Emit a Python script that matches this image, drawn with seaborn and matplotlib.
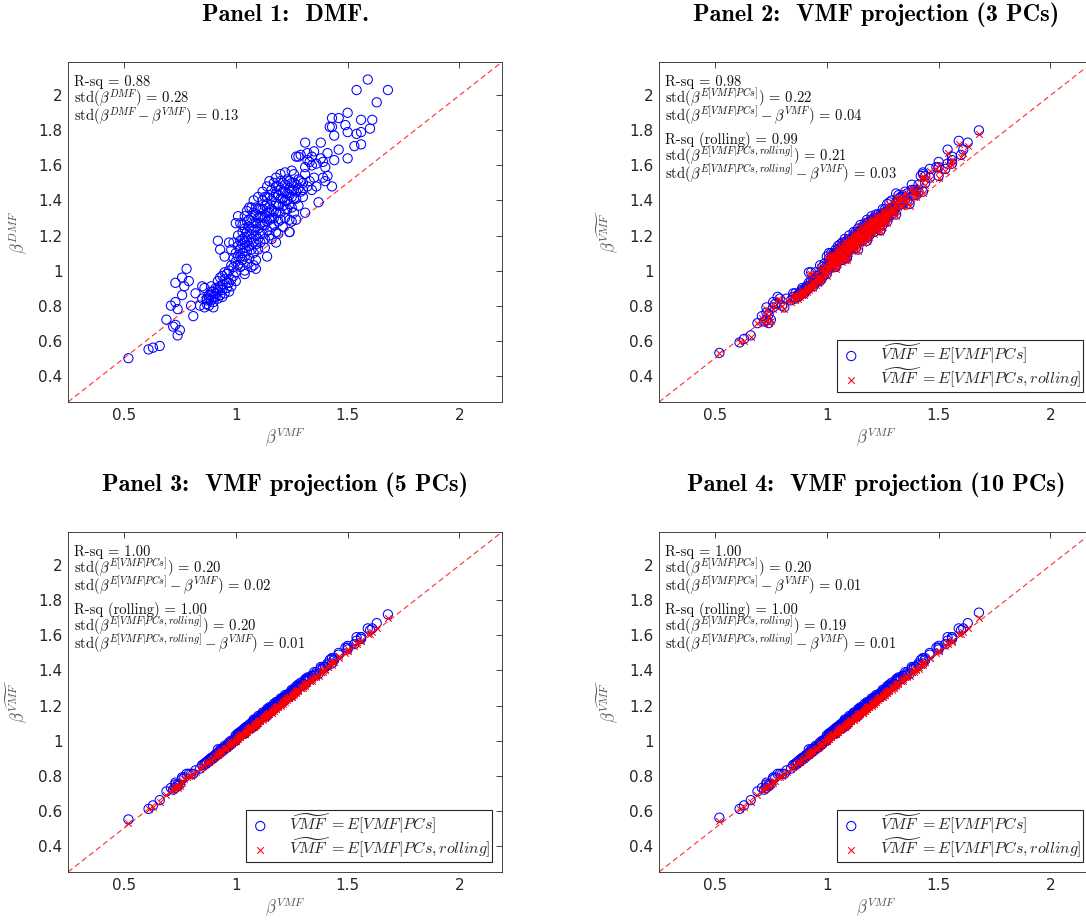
import matplotlib
matplotlib.use("Agg")
import matplotlib.pyplot as plt
import seaborn as sns

sns.set_style("white")
plt.rcParams["mathtext.fontset"] = "cm"
plt.rcParams["font.family"] = ["DejaVu Sans"]
plt.rcParams["axes.unicode_minus"] = False

# ---------------- data ----------------
beta_vmf = [
    0.52, 0.61, 0.63, 0.66, 0.69, 0.71, 0.73, 0.74, 0.72, 0.73, 0.74, 0.75, 0.73, 0.76, 0.78, 0.79, 0.77, 0.76, 0.82, 0.80,
    0.81, 0.85, 0.84, 0.92, 0.93, 0.95, 1.14, 1.04, 1.08, 1.09, 1.18, 1.24, 1.25, 1.31, 1.37, 1.43, 1.41, 1.40, 1.44, 1.31,
    1.38, 1.27, 1.29, 1.32, 1.35, 1.34, 1.32, 1.34, 1.36, 1.38, 1.39, 1.41, 1.46, 1.50, 1.43, 1.42, 1.43, 1.44, 1.46, 1.50,
    1.49, 1.50, 1.56, 1.61, 1.60, 1.54, 1.56, 1.56, 1.53, 1.63, 1.54, 1.59, 1.68,
    0.86, 0.87, 0.87, 0.88, 0.88, 0.89, 0.89, 0.90, 0.90, 0.91, 0.91, 0.92, 0.92, 0.93, 0.93, 0.94, 0.94, 0.95, 0.95, 0.96,
    0.96, 0.97, 0.97, 0.98, 0.98, 0.99, 0.99, 0.85, 0.86, 0.89, 0.92, 0.95, 1.00, 1.00, 0.90, 0.94,
    1.00, 1.00, 1.01, 1.01, 1.01, 1.02, 1.02, 1.02, 1.02, 1.03, 1.03, 1.03, 1.03, 1.03, 1.04, 1.04, 1.04, 1.04, 1.04, 1.04,
    1.05, 1.05, 1.05, 1.05, 1.05, 1.06, 1.06, 1.06, 1.06, 1.06, 1.07, 1.07, 1.07, 1.07, 1.08, 1.08, 1.08, 1.08, 1.08, 1.09,
    1.09, 1.09, 1.09, 1.10, 1.10, 1.10, 1.10, 1.10, 0.99, 0.98, 0.97, 1.00, 0.99, 1.01,
    1.11, 1.11, 1.11, 1.12, 1.12, 1.12, 1.12, 1.13, 1.13, 1.13, 1.14, 1.14, 1.14, 1.14, 1.15, 1.15, 1.15, 1.16, 1.16, 1.16,
    1.17, 1.17, 1.17, 1.18, 1.18, 1.18, 1.19, 1.19, 1.20, 1.20, 1.20, 1.21, 1.21, 1.21, 1.22, 1.22, 1.22, 1.23, 1.23, 1.23,
    1.24, 1.24, 1.24, 1.25, 1.25, 1.25, 1.26, 1.26, 1.26, 1.27, 1.27, 1.28, 1.28, 1.29, 1.30, 1.30, 1.31, 1.32, 1.33, 1.34,
    1.35, 1.36, 1.19, 1.24, 1.13, 1.16, 1.27, 1.33, 1.31, 1.28, 1.20, 1.18, 1.15, 1.22, 1.39, 1.40,
    0.87, 0.88, 0.89, 0.90, 0.91, 0.92, 0.93, 0.94, 0.96, 0.97, 0.98, 1.01, 1.02, 1.03, 1.04, 1.05, 1.06, 1.07, 1.07, 1.08,
    1.09, 1.09, 1.10, 1.11, 1.11, 1.12, 1.12, 1.13, 1.13, 1.14, 1.14, 1.15, 1.15, 1.16, 1.16, 1.17, 1.17, 1.18, 1.18, 1.19,
    1.19, 1.20, 1.20, 1.21, 1.21, 1.22, 1.22, 1.23, 1.24, 1.24, 1.25, 1.25, 1.26, 1.26, 1.27, 1.28, 1.29, 1.30,
]

beta_dmf = [
    0.50, 0.55, 0.56, 0.57, 0.72, 0.80, 0.82, 0.78, 0.68, 0.69, 0.63, 0.66, 0.93, 0.96, 1.01, 0.94, 0.91, 0.86, 0.87, 0.80,
    0.74, 0.91, 0.80, 1.17, 1.12, 1.08, 1.08, 0.98, 1.03, 1.01, 1.16, 1.22, 1.28, 1.33, 1.39, 1.48, 1.54, 1.59, 1.63, 1.73,
    1.73, 1.65, 1.66, 1.67, 1.68, 1.65, 1.63, 1.60, 1.61, 1.64, 1.62, 1.67, 1.69, 1.64, 1.87, 1.82, 1.82, 1.77, 1.87, 1.90,
    1.83, 1.79, 1.86, 1.86, 1.81, 1.78, 1.79, 1.72, 1.71, 1.96, 2.03, 2.09, 2.03,
    0.79, 0.81, 0.84, 0.80, 0.86, 0.83, 0.88, 0.82, 0.85, 0.87, 0.90, 0.84, 0.88, 0.86, 0.96, 0.89, 0.92, 0.87, 0.95, 0.90,
    0.98, 0.93, 0.88, 0.95, 0.91, 0.97, 1.02, 0.84, 0.90, 0.91, 0.94, 0.99, 0.94, 0.99, 0.79, 0.85,
    1.05, 1.10, 1.08, 1.14, 1.20, 1.02, 1.12, 1.17, 1.27, 1.06, 1.10, 1.15, 1.22, 1.26, 1.00, 1.08, 1.13, 1.19, 1.24, 1.31,
    1.04, 1.11, 1.17, 1.28, 1.34, 1.07, 1.14, 1.21, 1.25, 1.36, 1.02, 1.12, 1.18, 1.30, 1.10, 1.16, 1.23, 1.33, 1.40, 1.06,
    1.20, 1.27, 1.36, 1.12, 1.18, 1.24, 1.30, 1.42, 1.07, 1.12, 1.16, 1.27, 1.16, 1.31,
    1.16, 1.27, 1.35, 1.21, 1.31, 1.40, 1.45, 1.18, 1.26, 1.37, 1.23, 1.33, 1.42, 1.48, 1.20, 1.29, 1.36, 1.25, 1.40, 1.46,
    1.30, 1.34, 1.50, 1.22, 1.38, 1.44, 1.28, 1.48, 1.33, 1.41, 1.51, 1.25, 1.37, 1.45, 1.30, 1.49, 1.40, 1.35, 1.44, 1.52,
    1.29, 1.38, 1.47, 1.42, 1.50, 1.57, 1.33, 1.46, 1.55, 1.41, 1.49, 1.37, 1.52, 1.45, 1.50, 1.42, 1.55, 1.48, 1.51, 1.46,
    1.53, 1.48, 1.21, 1.22, 1.13, 1.18, 1.29, 1.62, 1.59, 1.65, 1.55, 1.53, 1.51, 1.56, 1.53, 1.51,
    0.83, 0.84, 0.86, 0.88, 0.85, 0.90, 0.91, 0.97, 0.93, 1.00, 1.03, 1.03, 1.08, 1.18, 1.16, 1.22, 1.29, 1.24, 1.36, 1.27,
    1.15, 1.32, 1.35, 1.21, 1.31, 1.26, 1.35, 1.30, 1.42, 1.28, 1.38, 1.33, 1.43, 1.30, 1.35, 1.26, 1.42, 1.33, 1.48, 1.37,
    1.43, 1.29, 1.46, 1.41, 1.50, 1.35, 1.45, 1.40, 1.43, 1.51, 1.36, 1.46, 1.41, 1.50, 1.45, 1.47, 1.51, 1.46,
]

# Panel 2 (3 PCs)
hat3 = [
    0.53, 0.59, 0.61, 0.63, 0.70, 0.74, 0.76, 0.75, 0.71, 0.72, 0.70, 0.72, 0.79, 0.82, 0.85, 0.84, 0.81, 0.79, 0.84, 0.80,
    0.79, 0.87, 0.83, 0.99, 0.99, 0.99, 1.12, 1.02, 1.07, 1.07, 1.17, 1.23, 1.26, 1.32, 1.38, 1.45, 1.45, 1.46, 1.50, 1.44,
    1.49, 1.38, 1.40, 1.43, 1.45, 1.43, 1.41, 1.42, 1.44, 1.46, 1.46, 1.49, 1.53, 1.54, 1.56, 1.54, 1.55, 1.54, 1.58, 1.62,
    1.59, 1.59, 1.65, 1.69, 1.66, 1.61, 1.63, 1.61, 1.58, 1.73, 1.69, 1.74, 1.80,
    0.84, 0.85, 0.86, 0.86, 0.87, 0.87, 0.89, 0.88, 0.89, 0.90, 0.91, 0.90, 0.91, 0.91, 0.94, 0.93, 0.93, 0.93, 0.95, 0.94,
    0.97, 0.96, 0.94, 0.97, 0.96, 0.98, 1.00, 0.85, 0.87, 0.90, 0.93, 0.96, 0.98, 1.00, 0.87, 0.91,
    1.02, 1.03, 1.03, 1.05, 1.07, 1.02, 1.05, 1.07, 1.10, 1.04, 1.05, 1.07, 1.09, 1.10, 1.03, 1.05, 1.07, 1.09, 1.10, 1.12,
    1.05, 1.07, 1.09, 1.12, 1.14, 1.06, 1.08, 1.11, 1.12, 1.15, 1.06, 1.09, 1.10, 1.14, 1.09, 1.10, 1.13, 1.16, 1.18, 1.08,
    1.12, 1.14, 1.17, 1.11, 1.12, 1.14, 1.16, 1.20, 1.01, 1.02, 1.03, 1.08, 1.04, 1.10,
    1.13, 1.16, 1.18, 1.15, 1.18, 1.20, 1.22, 1.15, 1.17, 1.20, 1.17, 1.20, 1.22, 1.24, 1.17, 1.19, 1.21, 1.19, 1.23, 1.25,
    1.21, 1.22, 1.27, 1.19, 1.24, 1.26, 1.22, 1.28, 1.24, 1.26, 1.29, 1.22, 1.26, 1.28, 1.24, 1.30, 1.27, 1.27, 1.29, 1.32,
    1.26, 1.28, 1.31, 1.30, 1.33, 1.35, 1.28, 1.32, 1.35, 1.31, 1.34, 1.31, 1.35, 1.34, 1.36, 1.34, 1.38, 1.37, 1.38, 1.38,
    1.40, 1.40, 1.20, 1.23, 1.13, 1.17, 1.28, 1.42, 1.39, 1.39, 1.31, 1.29, 1.26, 1.32, 1.43, 1.43,
    0.86, 0.87, 0.88, 0.89, 0.89, 0.91, 0.92, 0.95, 0.95, 0.98, 1.00, 1.02, 1.04, 1.08, 1.08, 1.10, 1.13, 1.12, 1.16, 1.14,
    1.11, 1.16, 1.18, 1.14, 1.17, 1.16, 1.19, 1.18, 1.22, 1.18, 1.21, 1.20, 1.23, 1.20, 1.22, 1.20, 1.25, 1.22, 1.27, 1.24,
    1.26, 1.23, 1.28, 1.27, 1.30, 1.26, 1.29, 1.28, 1.30, 1.32, 1.28, 1.31, 1.30, 1.33, 1.32, 1.34, 1.36, 1.35,
]
hat3_roll = [
    0.53, 0.59, 0.60, 0.62, 0.70, 0.73, 0.75, 0.74, 0.70, 0.71, 0.70, 0.71, 0.78, 0.81, 0.84, 0.83, 0.80, 0.78, 0.83, 0.80,
    0.78, 0.86, 0.82, 0.98, 0.98, 0.98, 1.11, 1.01, 1.06, 1.06, 1.17, 1.23, 1.25, 1.31, 1.37, 1.44, 1.44, 1.45, 1.49, 1.42,
    1.47, 1.37, 1.39, 1.41, 1.44, 1.42, 1.40, 1.41, 1.42, 1.45, 1.45, 1.48, 1.52, 1.53, 1.54, 1.53, 1.53, 1.52, 1.57, 1.60,
    1.58, 1.57, 1.63, 1.67, 1.65, 1.60, 1.62, 1.60, 1.57, 1.71, 1.67, 1.72, 1.78,
    0.83, 0.84, 0.85, 0.85, 0.87, 0.86, 0.88, 0.87, 0.88, 0.89, 0.90, 0.89, 0.90, 0.90, 0.93, 0.92, 0.93, 0.92, 0.95, 0.93,
    0.96, 0.95, 0.94, 0.96, 0.95, 0.98, 0.99, 0.84, 0.86, 0.89, 0.92, 0.95, 0.97, 0.99, 0.86, 0.90,
    1.01, 1.02, 1.02, 1.04, 1.06, 1.02, 1.04, 1.06, 1.09, 1.03, 1.04, 1.06, 1.08, 1.09, 1.02, 1.04, 1.06, 1.08, 1.09, 1.11,
    1.04, 1.06, 1.08, 1.11, 1.13, 1.06, 1.07, 1.10, 1.11, 1.14, 1.05, 1.08, 1.09, 1.13, 1.08, 1.09, 1.12, 1.15, 1.17, 1.07,
    1.11, 1.13, 1.16, 1.10, 1.11, 1.13, 1.15, 1.19, 1.00, 1.01, 1.02, 1.07, 1.03, 1.09,
    1.12, 1.15, 1.17, 1.14, 1.17, 1.19, 1.21, 1.14, 1.16, 1.19, 1.16, 1.19, 1.21, 1.23, 1.16, 1.18, 1.20, 1.18, 1.22, 1.24,
    1.20, 1.21, 1.26, 1.18, 1.23, 1.25, 1.21, 1.27, 1.23, 1.25, 1.28, 1.21, 1.25, 1.27, 1.23, 1.29, 1.26, 1.26, 1.28, 1.31,
    1.25, 1.27, 1.30, 1.29, 1.32, 1.34, 1.27, 1.31, 1.34, 1.30, 1.33, 1.30, 1.34, 1.33, 1.35, 1.33, 1.37, 1.36, 1.37, 1.37,
    1.39, 1.39, 1.19, 1.22, 1.12, 1.16, 1.27, 1.41, 1.38, 1.38, 1.30, 1.28, 1.25, 1.31, 1.42, 1.42,
    0.85, 0.86, 0.87, 0.88, 0.88, 0.90, 0.91, 0.94, 0.94, 0.97, 0.99, 1.01, 1.03, 1.07, 1.07, 1.09, 1.12, 1.11, 1.15, 1.13,
    1.10, 1.15, 1.17, 1.13, 1.16, 1.15, 1.18, 1.17, 1.21, 1.17, 1.20, 1.19, 1.22, 1.19, 1.21, 1.19, 1.24, 1.21, 1.26, 1.23,
    1.25, 1.22, 1.27, 1.26, 1.29, 1.25, 1.28, 1.27, 1.29, 1.31, 1.27, 1.30, 1.29, 1.32, 1.31, 1.33, 1.35, 1.34,
]

# Panel 3 (5 PCs)
hat5 = [
    0.55, 0.61, 0.63, 0.66, 0.71, 0.73, 0.75, 0.75, 0.72, 0.73, 0.74, 0.75, 0.76, 0.79, 0.81, 0.81, 0.79, 0.78, 0.83, 0.81,
    0.81, 0.86, 0.84, 0.95, 0.95, 0.97, 1.14, 1.04, 1.08, 1.09, 1.19, 1.25, 1.26, 1.32, 1.38, 1.44, 1.43, 1.42, 1.46, 1.35,
    1.42, 1.31, 1.33, 1.36, 1.39, 1.37, 1.35, 1.37, 1.39, 1.41, 1.42, 1.44, 1.49, 1.52, 1.47, 1.46, 1.47, 1.47, 1.50, 1.54,
    1.53, 1.53, 1.59, 1.64, 1.63, 1.57, 1.59, 1.58, 1.55, 1.67, 1.59, 1.64, 1.72,
    0.86, 0.87, 0.87, 0.88, 0.89, 0.89, 0.90, 0.90, 0.90, 0.91, 0.92, 0.92, 0.92, 0.93, 0.94, 0.94, 0.95, 0.95, 0.96, 0.96,
    0.97, 0.97, 0.97, 0.98, 0.98, 1.00, 1.00, 0.86, 0.87, 0.90, 0.93, 0.96, 1.00, 1.01, 0.90, 0.94,
    1.01, 1.02, 1.02, 1.03, 1.04, 1.03, 1.04, 1.04, 1.05, 1.04, 1.04, 1.05, 1.05, 1.06, 1.04, 1.05, 1.06, 1.06, 1.07, 1.07,
    1.06, 1.06, 1.07, 1.08, 1.08, 1.07, 1.07, 1.08, 1.08, 1.09, 1.07, 1.08, 1.09, 1.10, 1.09, 1.09, 1.10, 1.11, 1.12, 1.09,
    1.11, 1.11, 1.12, 1.11, 1.11, 1.12, 1.12, 1.14, 1.00, 1.00, 0.99, 1.03, 1.00, 1.04,
    1.12, 1.13, 1.14, 1.14, 1.14, 1.15, 1.16, 1.14, 1.15, 1.16, 1.16, 1.16, 1.17, 1.18, 1.16, 1.17, 1.17, 1.18, 1.19, 1.19,
    1.19, 1.19, 1.21, 1.19, 1.20, 1.21, 1.21, 1.22, 1.22, 1.22, 1.23, 1.22, 1.23, 1.24, 1.24, 1.25, 1.24, 1.25, 1.25, 1.26,
    1.25, 1.26, 1.27, 1.27, 1.28, 1.29, 1.28, 1.29, 1.29, 1.29, 1.30, 1.30, 1.31, 1.31, 1.32, 1.32, 1.34, 1.34, 1.35, 1.36,
    1.37, 1.38, 1.20, 1.25, 1.14, 1.17, 1.28, 1.36, 1.34, 1.32, 1.24, 1.22, 1.19, 1.26, 1.41, 1.42,
    0.88, 0.89, 0.90, 0.91, 0.92, 0.93, 0.94, 0.95, 0.97, 0.98, 0.99, 1.02, 1.03, 1.05, 1.06, 1.07, 1.09, 1.09, 1.10, 1.11,
    1.10, 1.12, 1.13, 1.13, 1.14, 1.14, 1.15, 1.15, 1.16, 1.16, 1.17, 1.17, 1.18, 1.18, 1.19, 1.19, 1.20, 1.20, 1.21, 1.21,
    1.22, 1.22, 1.23, 1.24, 1.24, 1.24, 1.25, 1.25, 1.27, 1.27, 1.27, 1.28, 1.28, 1.29, 1.29, 1.31, 1.32, 1.32,
]
hat5_roll = [
    0.53, 0.61, 0.62, 0.65, 0.69, 0.71, 0.73, 0.74, 0.72, 0.73, 0.73, 0.74, 0.74, 0.77, 0.79, 0.80, 0.78, 0.76, 0.82, 0.80,
    0.81, 0.85, 0.84, 0.93, 0.94, 0.96, 1.14, 1.04, 1.08, 1.09, 1.18, 1.24, 1.25, 1.31, 1.37, 1.43, 1.42, 1.41, 1.45, 1.33,
    1.39, 1.29, 1.30, 1.33, 1.36, 1.35, 1.33, 1.35, 1.37, 1.39, 1.40, 1.42, 1.47, 1.51, 1.45, 1.44, 1.45, 1.45, 1.48, 1.52,
    1.50, 1.51, 1.57, 1.62, 1.61, 1.55, 1.57, 1.57, 1.54, 1.64, 1.56, 1.61, 1.70,
    0.86, 0.87, 0.87, 0.88, 0.88, 0.89, 0.89, 0.90, 0.90, 0.91, 0.91, 0.92, 0.92, 0.93, 0.93, 0.94, 0.94, 0.95, 0.95, 0.96,
    0.96, 0.97, 0.97, 0.98, 0.98, 0.99, 0.99, 0.85, 0.86, 0.89, 0.92, 0.95, 1.00, 1.00, 0.90, 0.94,
    1.00, 1.00, 1.01, 1.02, 1.02, 1.02, 1.02, 1.03, 1.03, 1.03, 1.03, 1.03, 1.04, 1.04, 1.04, 1.04, 1.04, 1.05, 1.05, 1.05,
    1.05, 1.05, 1.05, 1.06, 1.06, 1.06, 1.06, 1.07, 1.07, 1.07, 1.07, 1.07, 1.07, 1.08, 1.08, 1.08, 1.09, 1.09, 1.09, 1.09,
    1.09, 1.10, 1.10, 1.10, 1.10, 1.11, 1.11, 1.11, 0.99, 0.99, 0.98, 1.01, 0.99, 1.02,
    1.11, 1.12, 1.12, 1.12, 1.13, 1.13, 1.13, 1.13, 1.14, 1.14, 1.14, 1.15, 1.15, 1.15, 1.15, 1.16, 1.16, 1.16, 1.17, 1.17,
    1.18, 1.18, 1.18, 1.18, 1.19, 1.19, 1.19, 1.20, 1.21, 1.21, 1.21, 1.21, 1.22, 1.22, 1.22, 1.23, 1.23, 1.23, 1.24, 1.24,
    1.24, 1.25, 1.25, 1.26, 1.26, 1.26, 1.26, 1.27, 1.27, 1.28, 1.28, 1.28, 1.29, 1.30, 1.31, 1.30, 1.32, 1.33, 1.34, 1.34,
    1.36, 1.36, 1.19, 1.24, 1.13, 1.16, 1.27, 1.34, 1.32, 1.29, 1.21, 1.19, 1.16, 1.23, 1.39, 1.40,
    0.87, 0.88, 0.89, 0.90, 0.91, 0.92, 0.93, 0.94, 0.96, 0.97, 0.98, 1.01, 1.02, 1.04, 1.04, 1.06, 1.07, 1.08, 1.08, 1.09,
    1.09, 1.10, 1.11, 1.11, 1.12, 1.13, 1.13, 1.14, 1.14, 1.15, 1.15, 1.16, 1.16, 1.17, 1.17, 1.17, 1.18, 1.19, 1.19, 1.20,
    1.20, 1.20, 1.21, 1.22, 1.22, 1.23, 1.23, 1.24, 1.25, 1.25, 1.25, 1.26, 1.27, 1.27, 1.28, 1.29, 1.30, 1.31,
]

# Panel 4 (10 PCs)
hat10 = [
    0.56, 0.61, 0.63, 0.66, 0.71, 0.73, 0.75, 0.75, 0.72, 0.73, 0.74, 0.75, 0.76, 0.79, 0.81, 0.81, 0.79, 0.78, 0.83, 0.81,
    0.81, 0.86, 0.84, 0.95, 0.95, 0.97, 1.14, 1.04, 1.08, 1.09, 1.19, 1.25, 1.26, 1.32, 1.38, 1.44, 1.43, 1.42, 1.46, 1.35,
    1.42, 1.31, 1.33, 1.36, 1.39, 1.37, 1.35, 1.37, 1.39, 1.41, 1.42, 1.44, 1.49, 1.52, 1.47, 1.46, 1.47, 1.47, 1.50, 1.54,
    1.53, 1.53, 1.59, 1.64, 1.63, 1.57, 1.59, 1.58, 1.55, 1.67, 1.59, 1.64, 1.73,
    0.86, 0.87, 0.87, 0.88, 0.89, 0.89, 0.90, 0.90, 0.90, 0.91, 0.92, 0.92, 0.92, 0.93, 0.94, 0.94, 0.95, 0.95, 0.96, 0.96,
    0.97, 0.97, 0.97, 0.98, 0.98, 1.00, 1.00, 0.86, 0.87, 0.90, 0.93, 0.96, 1.00, 1.01, 0.90, 0.94,
    1.01, 1.02, 1.02, 1.03, 1.04, 1.03, 1.04, 1.04, 1.05, 1.04, 1.04, 1.05, 1.05, 1.06, 1.04, 1.05, 1.06, 1.06, 1.07, 1.07,
    1.06, 1.06, 1.07, 1.08, 1.08, 1.07, 1.07, 1.08, 1.08, 1.09, 1.07, 1.08, 1.09, 1.10, 1.09, 1.09, 1.10, 1.11, 1.12, 1.09,
    1.11, 1.11, 1.12, 1.11, 1.11, 1.12, 1.12, 1.14, 1.00, 1.00, 0.99, 1.03, 1.00, 1.04,
    1.12, 1.13, 1.14, 1.14, 1.14, 1.15, 1.16, 1.14, 1.15, 1.16, 1.16, 1.16, 1.17, 1.18, 1.16, 1.17, 1.17, 1.18, 1.19, 1.19,
    1.19, 1.19, 1.21, 1.19, 1.20, 1.21, 1.21, 1.22, 1.22, 1.22, 1.23, 1.22, 1.23, 1.24, 1.24, 1.25, 1.24, 1.25, 1.25, 1.26,
    1.25, 1.26, 1.27, 1.27, 1.28, 1.29, 1.28, 1.29, 1.29, 1.29, 1.30, 1.30, 1.31, 1.31, 1.32, 1.32, 1.34, 1.34, 1.35, 1.36,
    1.37, 1.38, 1.20, 1.25, 1.14, 1.17, 1.28, 1.36, 1.34, 1.32, 1.24, 1.22, 1.19, 1.26, 1.41, 1.42,
    0.88, 0.89, 0.90, 0.91, 0.92, 0.93, 0.94, 0.95, 0.97, 0.98, 0.99, 1.02, 1.03, 1.05, 1.06, 1.07, 1.09, 1.09, 1.10, 1.11,
    1.10, 1.12, 1.13, 1.13, 1.14, 1.14, 1.15, 1.15, 1.16, 1.16, 1.17, 1.17, 1.18, 1.18, 1.19, 1.19, 1.20, 1.20, 1.21, 1.21,
    1.22, 1.22, 1.23, 1.24, 1.24, 1.24, 1.25, 1.25, 1.27, 1.27, 1.27, 1.28, 1.28, 1.29, 1.29, 1.31, 1.32, 1.32,
]
hat10_roll = [
    0.54, 0.61, 0.62, 0.65, 0.69, 0.72, 0.73, 0.74, 0.72, 0.73, 0.74, 0.75, 0.74, 0.77, 0.79, 0.79, 0.77, 0.76, 0.82, 0.80,
    0.81, 0.85, 0.84, 0.93, 0.94, 0.95, 1.14, 1.04, 1.08, 1.09, 1.18, 1.24, 1.25, 1.31, 1.37, 1.43, 1.41, 1.41, 1.45, 1.32,
    1.39, 1.28, 1.30, 1.33, 1.36, 1.35, 1.33, 1.35, 1.37, 1.39, 1.40, 1.42, 1.47, 1.51, 1.44, 1.43, 1.44, 1.45, 1.47, 1.51,
    1.50, 1.51, 1.57, 1.62, 1.61, 1.55, 1.57, 1.56, 1.54, 1.64, 1.56, 1.61, 1.70,
    0.86, 0.87, 0.87, 0.88, 0.88, 0.89, 0.89, 0.90, 0.90, 0.91, 0.91, 0.92, 0.92, 0.93, 0.93, 0.94, 0.94, 0.95, 0.95, 0.96,
    0.96, 0.97, 0.97, 0.98, 0.98, 0.99, 0.99, 0.85, 0.86, 0.89, 0.92, 0.95, 1.00, 1.00, 0.90, 0.94,
    1.00, 1.00, 1.01, 1.01, 1.02, 1.02, 1.02, 1.02, 1.03, 1.03, 1.03, 1.03, 1.04, 1.04, 1.04, 1.04, 1.04, 1.04, 1.05, 1.05,
    1.05, 1.05, 1.05, 1.06, 1.06, 1.06, 1.06, 1.06, 1.07, 1.07, 1.07, 1.07, 1.07, 1.08, 1.08, 1.08, 1.08, 1.09, 1.09, 1.09,
    1.09, 1.10, 1.10, 1.10, 1.10, 1.10, 1.11, 1.11, 0.99, 0.98, 0.98, 1.01, 0.99, 1.02,
    1.11, 1.11, 1.12, 1.12, 1.13, 1.13, 1.13, 1.13, 1.13, 1.14, 1.14, 1.15, 1.15, 1.15, 1.15, 1.15, 1.16, 1.16, 1.17, 1.17,
    1.17, 1.18, 1.18, 1.18, 1.19, 1.19, 1.19, 1.20, 1.20, 1.21, 1.21, 1.21, 1.21, 1.22, 1.22, 1.23, 1.23, 1.23, 1.24, 1.24,
    1.24, 1.24, 1.25, 1.26, 1.26, 1.26, 1.26, 1.27, 1.27, 1.27, 1.28, 1.28, 1.29, 1.29, 1.31, 1.30, 1.32, 1.32, 1.34, 1.34,
    1.36, 1.36, 1.19, 1.24, 1.13, 1.16, 1.27, 1.34, 1.32, 1.29, 1.21, 1.19, 1.16, 1.23, 1.39, 1.40,
    0.87, 0.88, 0.89, 0.90, 0.91, 0.92, 0.93, 0.94, 0.96, 0.97, 0.98, 1.01, 1.02, 1.03, 1.04, 1.06, 1.07, 1.08, 1.08, 1.09,
    1.09, 1.10, 1.11, 1.11, 1.12, 1.12, 1.13, 1.14, 1.14, 1.14, 1.15, 1.16, 1.16, 1.16, 1.17, 1.17, 1.18, 1.18, 1.19, 1.20,
    1.20, 1.20, 1.21, 1.22, 1.22, 1.22, 1.23, 1.24, 1.25, 1.25, 1.25, 1.26, 1.26, 1.27, 1.28, 1.29, 1.30, 1.30,
]

panel_titles = [
    "Panel 1:  DMF.",
    "Panel 2:  VMF projection (3 PCs)",
    "Panel 3:  VMF projection (5 PCs)",
    "Panel 4:  VMF projection (10 PCs)",
]
panel1_notes = ["R-sq = 0.88", r"std($\beta^{DMF}$) = 0.28", r"std($\beta^{DMF}-\beta^{VMF}$) = 0.13"]
rsq = ["0.98", "1.00", "1.00"]
std_hat = ["0.22", "0.20", "0.20"]
std_diff = ["0.04", "0.02", "0.01"]
rsq_roll = ["0.99", "1.00", "1.00"]
std_hat_roll = ["0.21", "0.20", "0.19"]
std_diff_roll = ["0.03", "0.01", "0.01"]
legend_labels = [r"$\widetilde{VMF}\ = E[VMF|PCs]$", r"$\widetilde{VMF}\ = E[VMF|PCs,rolling]$"]
xticks = [0.5, 1.0, 1.5, 2.0]
xticklabels = ["0.5", "1", "1.5", "2"]
yticks = [0.4, 0.6, 0.8, 1.0, 1.2, 1.4, 1.6, 1.8, 2.0]
yticklabels = ["0.4", "0.6", "0.8", "1", "1.2", "1.4", "1.6", "1.8", "2"]
lims = (0.25, 2.19)

# ---------------- figure ----------------
W, H = 1086, 923
fig = plt.figure(figsize=(W / 100, H / 100), dpi=100)
fig.patch.set_facecolor("white")

def pos(left, top, right, bottom):
    return [left / W, 1 - bottom / H, (right - left) / W, (bottom - top) / H]

axes = [
    fig.add_axes(pos(68, 62, 502, 402)),
    fig.add_axes(pos(659, 62, 1093, 402)),
    fig.add_axes(pos(68, 532, 502, 872)),
    fig.add_axes(pos(659, 532, 1093, 872)),
]

tick_col = "#262626"
label_col = "#555555"

def style_axes(ax, ylabel):
    ax.set_xlim(*lims)
    ax.set_ylim(*lims)
    ax.set_xticks(xticks)
    ax.set_xticklabels(xticklabels)
    ax.set_yticks(yticks)
    ax.set_yticklabels(yticklabels)
    ax.tick_params(direction="in", top=True, right=True, length=4, width=0.6,
                   colors=tick_col, labelsize=11, pad=4)
    for s in ax.spines.values():
        s.set_color("#262626")
        s.set_linewidth(0.6)
    ax.set_xlabel(r"$\beta^{VMF}$", fontsize=12, color=label_col, labelpad=3)
    ax.set_ylabel(ylabel, fontsize=12, color=label_col, labelpad=6)
    ax.axline((0.5, 0.5), slope=1, color="#ff3030", lw=0.8, ls=(0, (5, 3)), zorder=1)

def notes(ax, lines, ys):
    for t, y in zip(lines, ys):
        ax.text(0.014, y, t, transform=ax.transAxes, fontsize=10.5,
                family="cmr10", va="baseline", ha="left", color="#111111")

def title(ax, t):
    ax.text(0.5, 1.12, t, transform=ax.transAxes, ha="center", va="baseline",
            family="cmb10", fontsize=17.5, color="black")

# Panel 1
ax = axes[0]
sns.scatterplot(x=beta_vmf, y=beta_dmf, ax=ax, marker="o", s=44,
                facecolor="none", edgecolor="blue", linewidth=0.75, zorder=3)
style_axes(ax, r"$\beta^{DMF}$")
notes(ax, panel1_notes, [0.929, 0.879, 0.826])
title(ax, panel_titles[0])

# Panels 2-4
series = [(hat3, hat3_roll), (hat5, hat5_roll), (hat10, hat10_roll)]
for i, (h, hr) in enumerate(series):
    ax = axes[i + 1]
    sns.scatterplot(x=beta_vmf, y=h, ax=ax, marker="o", s=44, facecolor="none",
                    edgecolor="blue", linewidth=0.75, zorder=3, label=legend_labels[0])
    sns.scatterplot(x=beta_vmf, y=hr, ax=ax, marker="x", s=22, color="red",
                    linewidth=0.75, zorder=4, label=legend_labels[1])
    style_axes(ax, r"$\beta^{\widetilde{VMF}}$")
    lines = [
        f"R-sq = {rsq[i]}",
        r"std($\beta^{E[VMF|PCs]}$) = " + std_hat[i],
        r"std($\beta^{E[VMF|PCs]}-\beta^{VMF}$) = " + std_diff[i],
        f"R-sq (rolling) = {rsq_roll[i]}",
        r"std($\beta^{E[VMF|PCs,rolling]}$) = " + std_hat_roll[i],
        r"std($\beta^{E[VMF|PCs,rolling]}-\beta^{VMF}$) = " + std_diff_roll[i],
    ]
    notes(ax, lines, [0.929, 0.879, 0.826, 0.759, 0.709, 0.656])
    leg = ax.legend(loc="lower right", fontsize=11.5, frameon=True, fancybox=False,
                    framealpha=1, edgecolor="#262626", borderaxespad=0.6,
                    handlelength=1.6, handletextpad=1.0, borderpad=0.12,
                    labelspacing=0.0, markerscale=1.0)
    leg.get_frame().set_linewidth(0.8)
    title(ax, panel_titles[i + 1])

fig.savefig("out.png", dpi=100, facecolor="white")
